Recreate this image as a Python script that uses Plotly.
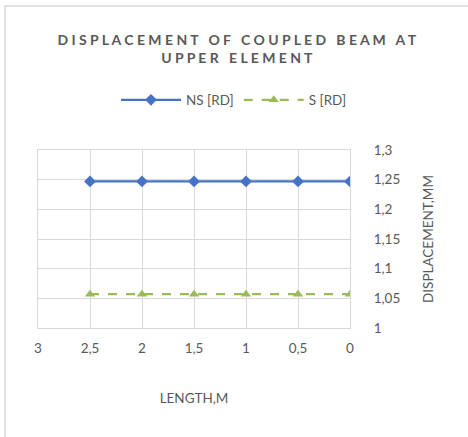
import plotly.graph_objects as go

length_m = [2.5, 2, 1.5, 1, 0.5, 0]
ns_rd = [1.247, 1.247, 1.247, 1.247, 1.247, 1.247]
s_rd = [1.057, 1.057, 1.057, 1.057, 1.057, 1.057]

FONT = "Lato, Open Sans, sans-serif"
GREY = "#595959"

fig = go.Figure()
fig.add_trace(go.Scatter(x=length_m, y=ns_rd, name="NS [RD]", mode="lines+markers",
                         line=dict(color="#4472c4", width=2.25),
                         marker=dict(symbol="diamond", size=9, color="#4472c4")))
fig.add_trace(go.Scatter(x=length_m, y=s_rd, name="S [RD]", mode="lines+markers",
                         line=dict(color="#9bbb59", width=2.25, dash="dash"),
                         marker=dict(symbol="triangle-up", size=9, color="#9bbb59")))

L, R, T, B = 38, 350, 150, 328
W, H = 468, 437

fig.update_layout(
    width=W, height=H,
    margin=dict(l=L, r=W - R, t=T, b=H - B, autoexpand=False),
    paper_bgcolor="white", plot_bgcolor="white",
    separators=", ",
    font=dict(family=FONT, size=13.5, color=GREY),
    title=dict(text="<b>D I S P L A C E M E N T   O F   C O U P L E D   B E A M   A T<br>U P P E R   E L E M E N T</b>",
               x=0.506, xanchor="center", xref="container", y=1 - 45 / H, yanchor="middle",
               font=dict(family=FONT, size=14, color=GREY)),
    legend=dict(orientation="h", x=0.5, xanchor="center", xref="container",
                y=1 - 100 / H, yref="container", yanchor="middle",
                font=dict(size=13.5, color=GREY),
                itemwidth=60, bgcolor="rgba(0,0,0,0)"),
    xaxis=dict(range=[3, 0], dtick=0.5, tick0=0, showgrid=True, gridcolor="#d9d9d9",
               gridwidth=1, zeroline=False, showline=True, mirror=True, linecolor="#d9d9d9",
               ticks="", ticklabelstandoff=8,
               title=dict(text="LENGTH,M", standoff=38, font=dict(size=13.5, color=GREY)),
               tickfont=dict(size=13.5, color=GREY)),
    yaxis=dict(range=[1, 1.3], dtick=0.05, side="right", showgrid=True, gridcolor="#d9d9d9",
               gridwidth=1, zeroline=False, showline=True, mirror=True, linecolor="#d9d9d9",
               ticks="", ticklabelstandoff=20,
               title=dict(text="DISPLACEMENT,MM", standoff=24, font=dict(size=13.5, color=GREY)),
               tickfont=dict(size=13.5, color=GREY)),
    shapes=[dict(type="rect", xref="paper", yref="paper",
                 x0=(5 - L) / (R - L), x1=(475 - L) / (R - L),
                 y0=(B - 445) / (B - T), y1=(B - 6) / (B - T),
                 line=dict(color="#d9d9d9", width=1.5), fillcolor="rgba(0,0,0,0)", layer="below")],
)

fig.write_html("out.html", config={"displayModeBar": False},
               post_script="document.body.style.margin='0';")
